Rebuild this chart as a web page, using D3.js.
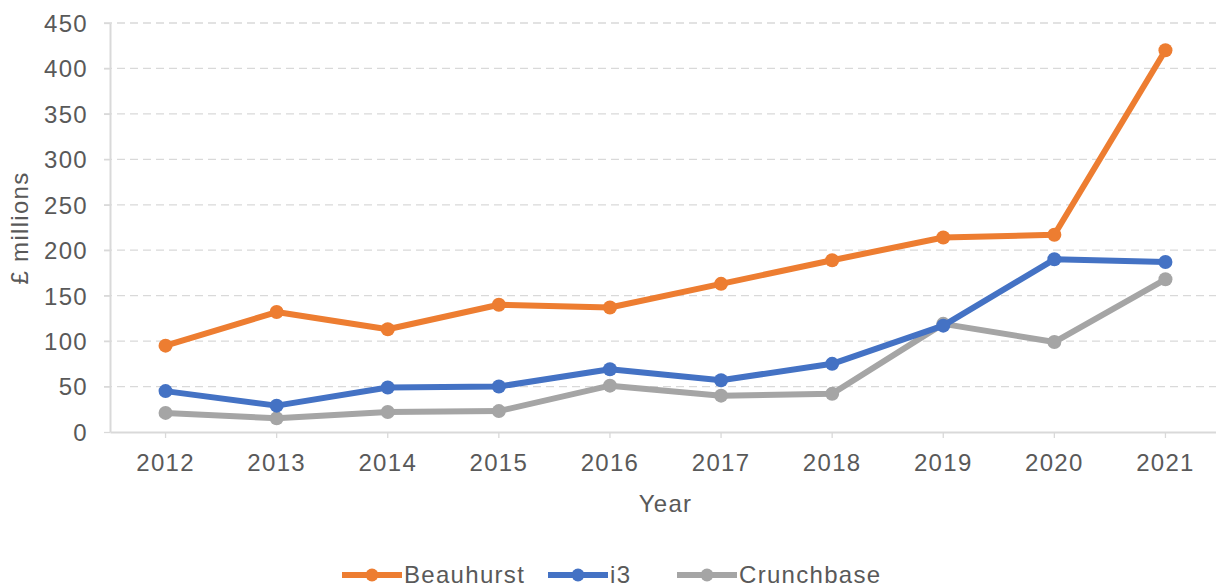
<!DOCTYPE html>
<html>
<head>
<meta charset="utf-8">
<script src="https://cdn.jsdelivr.net/npm/d3@7"></script>
<style>
  body { margin: 0; background: #fff; }
  text { font-family: "Liberation Sans", Arial, sans-serif; fill: #595959; letter-spacing: 1.3px; }
</style>
</head>
<body>
<div id="chart"></div>
<script>
var years = ["2012", "2013", "2014", "2015", "2016", "2017", "2018", "2019", "2020", "2021"];
var beauhurst = [95, 132, 113, 140, 137, 163, 189, 214, 217, 420];
var i3 = [45, 29, 49, 50, 69, 57, 75, 117, 190, 187];
var crunchbase = [21, 15, 22, 23, 51, 40, 42, 119, 99, 168];
var yTicks = [0, 50, 100, 150, 200, 250, 300, 350, 400, 450];

var series = [
    {name: "Beauhurst", values: beauhurst, color: "#ED7D31"},
    {name: "i3", values: i3, color: "#4472C4"},
    {name: "Crunchbase", values: crunchbase, color: "#A5A5A5"}
];

var width = 1216, height = 587;
var plotLeft = 110, plotRight = 1221, plotTop = 23, plotBottom = 432;

var svg = d3.select("#chart").append("svg")
    .attr("width", width)
    .attr("height", height);

var x = d3.scaleBand().domain(years).range([plotLeft, plotRight]);
var y = d3.scaleLinear().domain([0, 450]).range([plotBottom, plotTop]);

// gridlines
svg.append("g")
    .selectAll("line")
    .data(yTicks.slice(1))
    .enter().append("line")
    .attr("x1", plotLeft - 6).attr("x2", width)
    .attr("y1", function (d) { return y(d); })
    .attr("y2", function (d) { return y(d); })
    .attr("stroke", "#d9d9d9")
    .attr("stroke-width", 1.3)
    .attr("stroke-dasharray", "8,5");

// axes
var yAxis = svg.append("g")
    .attr("transform", "translate(" + plotLeft + ",0)")
    .call(d3.axisLeft(y).tickValues(yTicks).tickSize(6).tickSizeOuter(0).tickPadding(16));
var xAxis = svg.append("g")
    .attr("transform", "translate(0," + plotBottom + ")")
    .call(d3.axisBottom(x).tickSize(6).tickSizeOuter(0).tickPadding(16));

[yAxis, xAxis].forEach(function (a) {
    a.select(".domain").attr("stroke", "#d9d9d9").attr("stroke-width", 2);
    a.selectAll(".tick line").attr("stroke", "#d9d9d9").attr("stroke-width", 1.3);
    a.selectAll(".tick text").style("font-size", "24px").attr("fill", "#595959");
});
yAxis.selectAll(".tick text").attr("dy", "0.35em");

// axis titles
svg.append("text")
    .attr("x", x("2016") + x.bandwidth())
    .attr("y", 512)
    .attr("text-anchor", "middle")
    .style("font-size", "24px")
    .text("Year");

svg.append("text")
    .attr("transform", "translate(28,228) rotate(-90)")
    .attr("text-anchor", "middle")
    .style("font-size", "24px")
    .text("£ millions");

var cx = function (d, i) { return x(years[i]) + x.bandwidth() / 2; };

var line = d3.line()
    .x(function (d, i) { return x(years[i]) + x.bandwidth() / 2; })
    .y(function (d) { return y(d); });

// draw in reverse so orange sits on top
series.slice().reverse().forEach(function (s) {
    var g = svg.append("g");
    g.append("path")
        .attr("d", line(s.values))
        .attr("fill", "none")
        .attr("stroke", s.color)
        .attr("stroke-width", 6)
        .attr("stroke-linejoin", "round");
    g.selectAll("circle")
        .data(s.values)
        .enter().append("circle")
        .attr("cx", cx)
        .attr("cy", function (d) { return y(d); })
        .attr("r", 7)
        .attr("fill", s.color);
});

// legend
var legendX = [342, 548, 677];
var legend = svg.append("g");
series.forEach(function (s, i) {
    var g = legend.append("g").attr("transform", "translate(" + legendX[i] + ",575)");
    g.append("line")
        .attr("x1", 0).attr("x2", 60)
        .attr("stroke", s.color)
        .attr("stroke-width", 6);
    g.append("circle")
        .attr("cx", 30).attr("r", 6.5)
        .attr("fill", s.color);
    g.append("text")
        .attr("x", 62)
        .attr("dy", "0.35em")
        .style("font-size", "24px")
        .text(s.name);
});
</script>
</body>
</html>
